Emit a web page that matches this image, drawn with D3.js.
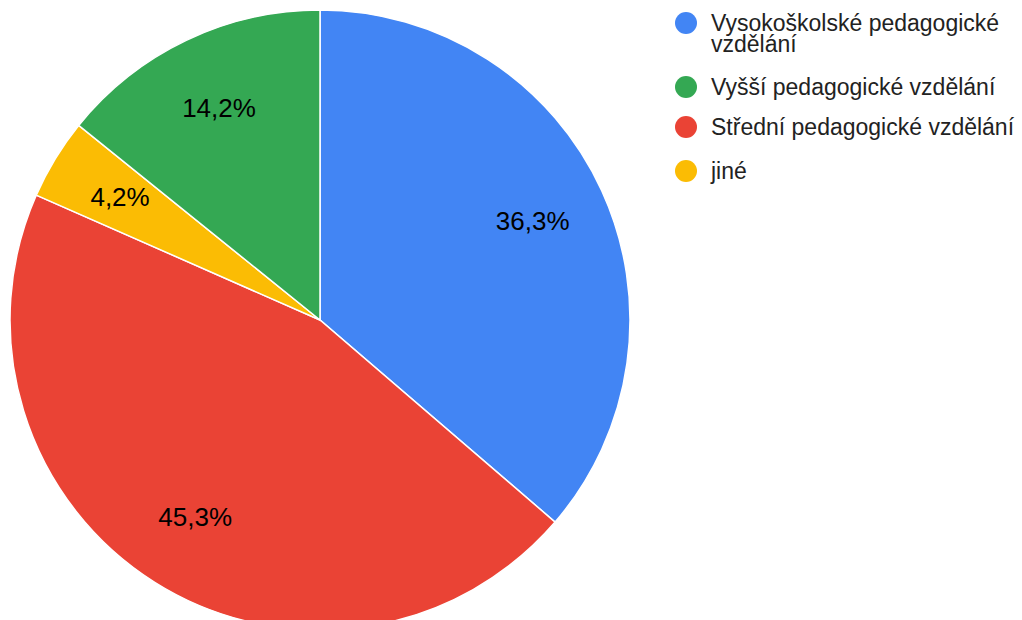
<!DOCTYPE html>
<html>
<head>
<meta charset="utf-8">
<script src="https://cdn.jsdelivr.net/npm/d3@7"></script>
<style>
  body { margin: 0; background: #fff; }
  svg text { font-family: Arial, "Liberation Sans", sans-serif; }
</style>
</head>
<body>
<svg id="chart" width="1022" height="620"></svg>
<script>
// slices in drawing order (clockwise from 12 o'clock)
var labels = ["Vysokoškolské pedagogické vzdělání", "Střední pedagogické vzdělání", "jiné", "Vyšší pedagogické vzdělání"];
var values = [36.3, 45.3, 4.2, 14.2];
var colours = ["#4285f4", "#ea4335", "#fbbc04", "#34a853"];

// legend order
var legendItems = [
  ["Vysokoškolské pedagogické", "vzdělání"],
  ["Vyšší pedagogické vzdělání"],
  ["Střední pedagogické vzdělání"],
  ["jiné"]
];
var legendColours = ["#4285f4", "#34a853", "#ea4335", "#fbbc04"];

var svg = d3.select("#chart");
var cx = 320, cy = 320, radius = 310;

var pie = d3.pie().value(function (d) { return d; }).sort(null);
var arc = d3.arc().innerRadius(0).outerRadius(radius);
var labelArc = d3.arc().innerRadius(radius * 0.755).outerRadius(radius * 0.755);

var g = svg.append("g").attr("transform", "translate(" + cx + "," + cy + ")");

var slices = g.selectAll(".arc")
  .data(pie(values))
  .enter().append("g")
  .attr("class", "arc");

slices.append("path")
  .attr("d", arc)
  .attr("fill", function (d, i) { return colours[i]; })
  .attr("stroke", "#fff")
  .attr("stroke-width", 1.5);

slices.append("text")
  .attr("transform", function (d) { return "translate(" + labelArc.centroid(d) + ")"; })
  .attr("dy", "0.3em")
  .style("text-anchor", "middle")
  .style("font-size", "26px")
  .attr("fill", "#000")
  .text(function (d) { return d3.format(".1f")(d.value).replace(".", ",") + "%"; });

// legend
var itemY = [23, 87, 127, 171];
var legend = svg.append("g");
legendItems.forEach(function (lines, i) {
  var row = legend.append("g").attr("transform", "translate(0," + itemY[i] + ")");
  row.append("circle")
    .attr("cx", 686)
    .attr("cy", 0)
    .attr("r", 11)
    .attr("fill", legendColours[i]);
  var t = row.append("text")
    .attr("x", 711)
    .attr("y", 8)
    .attr("fill", "#222")
    .style("font-size", "23px");
  lines.forEach(function (line, j) {
    t.append("tspan").attr("x", 711).attr("dy", j === 0 ? 0 : 21).text(line);
  });
});
</script>
</body>
</html>
